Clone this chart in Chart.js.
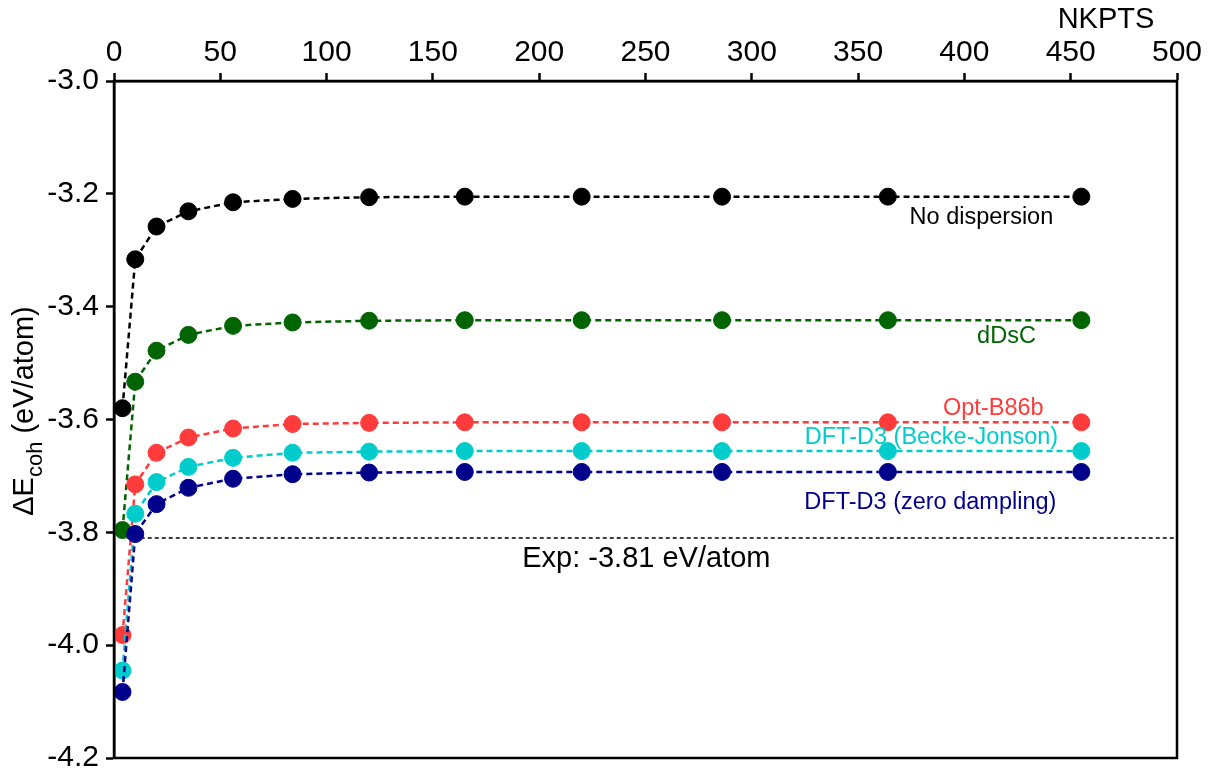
<!DOCTYPE html>
<html>
<head>
<meta charset="utf-8">
<script src="https://cdn.jsdelivr.net/npm/chart.js@4/dist/chart.umd.min.js"></script>
<style>
html,body{margin:0;padding:0;background:#fff;}
#wrap{width:1217px;height:773px;position:relative;}
</style>
</head>
<body>
<div id="wrap"><canvas id="c" width="1217" height="773"></canvas></div>
<script>
// ---- data ----
const nkpts = [4, 10, 20, 35, 56, 84, 120, 165, 220, 286, 364, 455];
const noDispersion = [-3.580, -3.316, -3.258, -3.231, -3.215, -3.209, -3.206, -3.205, -3.205, -3.205, -3.205, -3.205];
const dDsC        = [-3.796, -3.533, -3.478, -3.450, -3.434, -3.428, -3.425, -3.424, -3.424, -3.424, -3.424, -3.424];
const optB86b     = [-3.982, -3.715, -3.659, -3.632, -3.616, -3.608, -3.606, -3.605, -3.605, -3.605, -3.605, -3.605];
const d3BJ        = [-4.045, -3.767, -3.711, -3.684, -3.668, -3.659, -3.657, -3.656, -3.656, -3.656, -3.656, -3.656];
const d3Zero      = [-4.083, -3.803, -3.750, -3.721, -3.705, -3.697, -3.694, -3.693, -3.693, -3.693, -3.693, -3.693];
const expValue = -3.81;
const expRangeX = [6, 500];
const seriesNames = ["No dispersion", "dDsC", "Opt-B86b", "DFT-D3 (Becke-Jonson)", "DFT-D3 (zero dampling)"];
const expLabel = "Exp: -3.81 eV/atom";
const xTitle = "NKPTS";
// label anchors in data units (center x, baseline y)
const labelX = [408, 419.8, 413.6, 384.5, 384, 250.4];
const labelY = [-3.254, -3.465, -3.592, -3.644, -3.759, -3.862];

const colors = ["#000000", "#006400", "#ff3b3b", "#00cccc", "#00008b"];
const FONT = "'Liberation Sans', Arial, sans-serif";

const series = [noDispersion, dDsC, optB86b, d3BJ, d3Zero];
const datasets = series.map((vals, i) => ({
  label: seriesNames[i],
  data: nkpts.map((x, j) => ({x: x, y: vals[j]})),
  borderColor: colors[i],
  backgroundColor: colors[i],
  pointBackgroundColor: colors[i],
  pointBorderColor: colors[i],
  pointRadius: 8.5,
  pointBorderWidth: 1,
  borderWidth: 2.5,
  borderDash: [6, 4],
  tension: 0,
  order: 10 - i
}));
datasets.push({
  label: "Exp",
  data: expRangeX.map(x => ({x: x, y: expValue})),
  borderColor: "#000",
  borderWidth: 1.5,
  borderDash: [4, 3],
  pointRadius: 0,
  order: 20
});

const decor = {
  id: 'decor',
  afterDraw(chart) {
    const ctx = chart.ctx;
    const a = chart.chartArea;
    const xs = chart.scales.x, ys = chart.scales.y;
    ctx.save();
    // frame
    ctx.strokeStyle = "#000";
    ctx.lineWidth = 2.5;
    ctx.strokeRect(a.left, a.top, a.right - a.left, a.bottom - a.top);
    // series labels
    ctx.textAlign = "center";
    ctx.textBaseline = "alphabetic";
    for (let i = 0; i < 5; i++) {
      ctx.fillStyle = colors[i];
      ctx.font = "23.5px " + FONT;
      ctx.fillText(seriesNames[i], xs.getPixelForValue(labelX[i]), ys.getPixelForValue(labelY[i]));
    }
    ctx.fillStyle = "#000";
    ctx.font = "29px " + FONT;
    ctx.fillText(expLabel, xs.getPixelForValue(labelX[5]), ys.getPixelForValue(labelY[5]));
    // x title
    ctx.fillText(xTitle, 1106, 28);
    // y title with subscript
    ctx.translate(33, 411);
    ctx.rotate(-Math.PI / 2);
    const big = "29px " + FONT, small = "22px " + FONT;
    ctx.font = big; const w1 = ctx.measureText("\u0394E").width;
    ctx.font = small; const w2 = ctx.measureText("coh").width;
    ctx.font = big; const w3 = ctx.measureText(" (eV/atom)").width;
    let x0 = -(w1 + w2 + w3) / 2;
    ctx.textAlign = "left";
    ctx.font = big; ctx.fillText("\u0394E", x0, 0);
    ctx.font = small; ctx.fillText("coh", x0 + w1, 9);
    ctx.font = big; ctx.fillText(" (eV/atom)", x0 + w1 + w2, 0);
    ctx.restore();
  }
};

new Chart(document.getElementById('c'), {
  type: 'line',
  data: {datasets: datasets},
  options: {
    responsive: false,
    animation: false,
    layout: {padding: {left: 0, top: 0, right: 40, bottom: 15}},
    plugins: {legend: {display: false}, tooltip: {enabled: false}},
    scales: {
      x: {
        type: 'linear', position: 'top', min: 0, max: 500,
        ticks: {stepSize: 50, color: '#000', font: {family: FONT, size: 30}, padding: 2, maxRotation: 0},
        grid: {drawOnChartArea: false, drawTicks: true, tickLength: 8, tickWidth: 2.5, tickColor: '#000'},
        border: {display: true, color: '#000', width: 2.5},
        afterFit(s) { s.height = 81; s.paddingLeft = 0; s.paddingRight = 0; }
      },
      y: {
        type: 'linear', position: 'left', min: -4.2, max: -3.0,
        ticks: {stepSize: 0.2, color: '#000', font: {family: FONT, size: 30}, padding: 7,
          callback: v => Number(v).toFixed(1)},
        grid: {drawOnChartArea: false, drawTicks: true, tickLength: 8, tickWidth: 2.5, tickColor: '#000'},
        border: {display: true, color: '#000', width: 2.5},
        afterFit(s) { s.width = 114; s.paddingTop = 0; s.paddingBottom = 0; }
      }
    }
  },
  plugins: [decor]
});
</script>
</body>
</html>
